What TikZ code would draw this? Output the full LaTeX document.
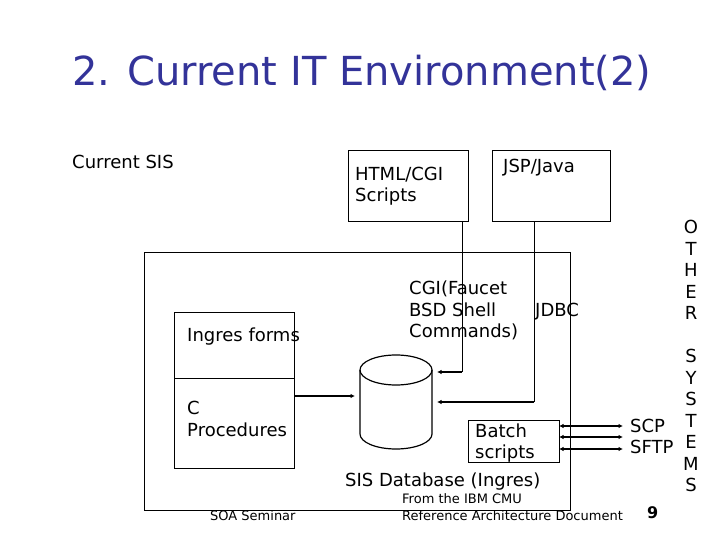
\documentclass[tikz,border=0pt]{standalone}
\usepackage{fontspec}
\setmainfont{DejaVu Sans}
\usetikzlibrary{arrows.meta}
\definecolor{titleblue}{RGB}{51,51,153}
\begin{document}
\begin{tikzpicture}[x=1pt,y=-1pt,
  box/.style={draw,line width=1pt,inner sep=0pt,outer sep=0pt,anchor=north west},
  txt/.style={anchor=base west,inner sep=0pt,font=\fontsize{18}{21.5}\selectfont},
  small/.style={anchor=base west,inner sep=0pt,font=\fontsize{13}{15}\selectfont},
  conn/.style={line width=1.6pt,-{Latex[length=4.5pt,width=4.5pt]}},
  dconn/.style={line width=2pt,{Latex[length=4.5pt,width=4.5pt]}-{Latex[length=4.5pt,width=4.5pt]}}]
\useasboundingbox (0,0) rectangle (720,540);

% title
\node[anchor=base west,inner sep=0pt,font=\fontsize{40}{48}\selectfont,text=titleblue] (title) at (72,86) {2. Current IT Environment(2)};

% boxes
\node[box,minimum width=426,minimum height=258] (sis) at (144,252) {};
\node[box,minimum width=120,minimum height=71] (html) at (348,151) {};
\node[box,minimum width=118,minimum height=71] (jsp) at (492,151) {};
\node[box,minimum width=120,minimum height=66] (forms) at (174,312) {};
\node[box,minimum width=120,minimum height=90] (cproc) at (174,378) {};
\node[box,minimum width=91,minimum height=42] (batch) at (468,420) {};

% database cylinder
\draw[line width=1.2pt] (396,370) ellipse[x radius=36pt,y radius=15pt];
\draw[line width=1.2pt] (360,370) -- (360,434) arc[start angle=180,end angle=360,x radius=36pt,y radius=15pt] -- (432,370);
\coordinate (dbL) at (355,396);
\coordinate (dbR1) at (437,372);
\coordinate (dbR2) at (437,402);

% connectors
\draw[line width=1pt] ([xshift=-6pt]html.south east) -- ([xshift=-6pt]html.south east |- dbR1);
\draw[conn] ([xshift=-6pt]html.south east |- dbR1) -- (dbR1);
\draw[line width=1pt] ([xshift=42pt]jsp.south west) -- ([xshift=42pt]jsp.south west |- dbR2);
\draw[conn] ([xshift=42pt]jsp.south west |- dbR2) -- (dbR2);
\draw[conn] (cproc.east |- dbL) -- (dbL);
\coordinate (o1) at (623,426);
\coordinate (o2) at (623,437);
\coordinate (o3) at (623,449);
\draw[dconn] (batch.east |- o1) -- (o1);
\draw[dconn] (batch.east |- o2) -- (o2);
\draw[dconn] (batch.east |- o3) -- (o3);

% texts
\node[txt] (cursis) at (72,169) {Current SIS};
\node[txt] (html1) at (355,181) {HTML/CGI};
\node[txt] (html2) at (355,202) {Scripts};
\node[txt] (jsp1) at (503,173) {JSP/Java};
\node[txt] (cgi1) at (409,294) {CGI(Faucet};
\node[txt] (cgi2) at (409,316) {BSD Shell};
\node[txt] (cgi3) at (409,337) {Commands)};
\node[txt] (jdbc) at (535,316) {JDBC};
\node[txt] (forms1) at (187,341) {Ingres forms};
\node[txt] (cproc1) at (187,414) {C};
\node[txt] (cproc2) at (187,436) {Procedures};
\node[txt] (batch1) at (475,437) {Batch};
\node[txt] (batch2) at (475,458) {scripts};
\node[txt] (dbname) at (345,486) {SIS Database (Ingres)};
\node[txt] (scp) at (630,432) {SCP};
\node[txt] (sftp) at (630,453) {SFTP};
\foreach \l [count=\i] in {O,T,H,E,R,{},S,Y,S,T,E,M,S}
  \node[anchor=base,inner sep=0pt,font=\fontsize{18}{21.5}\selectfont] (other\i) at (691,{233.5+21.5*(\i-1)}) {\l};

% footer
\node[small] (src1) at (402,503) {From the IBM CMU};
\node[small] (src2) at (402,520) {Reference Architecture Document};
\node[small] (seminar) at (210,520) {SOA Seminar};
\node[anchor=base west,inner sep=0pt,font=\fontsize{16}{18}\selectfont\bfseries] (pagenum) at (647,518) {9};
\end{tikzpicture}
\end{document}
